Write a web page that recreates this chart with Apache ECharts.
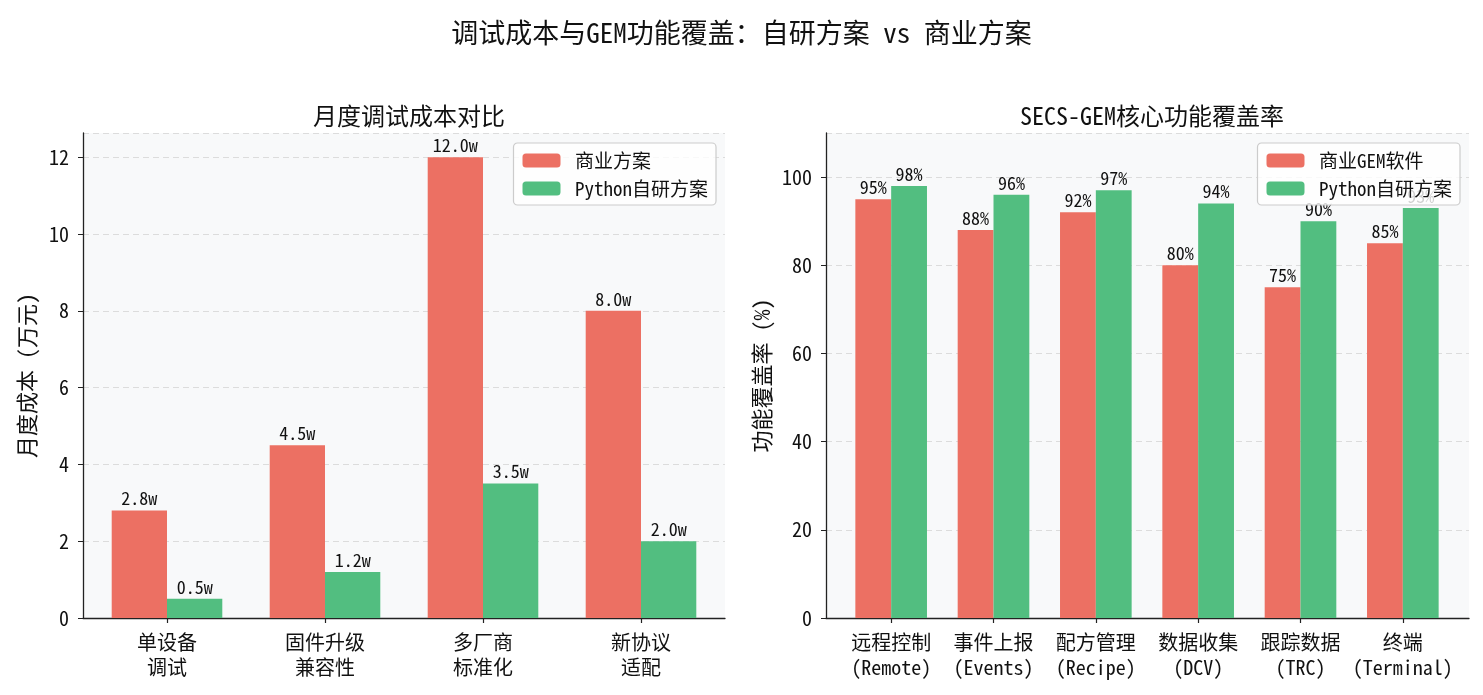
<!DOCTYPE html>
<html><head><meta charset="utf-8">
<script src="https://cdn.jsdelivr.net/npm/echarts@6/dist/echarts.min.js"></script>
<style>html,body{margin:0;padding:0;background:#fff}#c{width:1483px;height:695px}</style>
</head><body><div id="c"></div>
<script>
const costCategories = ['单设备\n调试', '固件升级\n兼容性', '多厂商\n标准化', '新协议\n适配'];
const costCommercial = [2.8, 4.5, 12.0, 8.0];
const costPython = [0.5, 1.2, 3.5, 2.0];
const featCategories = ['远程控制\n(Remote)', '事件上报\n(Events)', '配方管理\n(Recipe)', '数据收集\n(DCV)', '跟踪数据\n(TRC)', '终端\n(Terminal)'];
const featCommercial = [95, 88, 92, 80, 75, 85];
const featPython = [98, 96, 97, 94, 90, 93];

const FONT = "'Noto Sans Mono CJK SC', 'DejaVu Sans Mono', 'Noto Sans CJK SC', monospace";
const RED = '#EC7063', GREEN = '#52BE80';
const chart = echarts.init(document.getElementById('c'));

// frame x axes (axis line only) on the background grids
function frameX(idx) {
  return {
    type: 'value', gridIndex: idx, min: 0, max: 1,
    axisLine: { show: true, onZero: false, lineStyle: { color: '#222', width: 1.3 } },
    axisTick: { show: false }, axisLabel: { show: false }, splitLine: { show: false }
  };
}
// category axes on the inner bar grids (ticks + labels)
function catX(idx, data) {
  return {
    type: 'category', gridIndex: idx, data: data,
    axisLine: { show: false },
    axisTick: { show: true, alignWithLabel: true, length: 5, lineStyle: { color: '#222', width: 1.2 } },
    axisLabel: { color: '#111', fontSize: 20, fontFamily: FONT, lineHeight: 25, margin: 12, interval: 0 },
    splitLine: { show: false }
  };
}
function yAx(idx, max, interval, name, gap) {
  return {
    type: 'value', gridIndex: idx, min: 0, max: max, interval: interval,
    name: name, nameLocation: 'middle', nameGap: gap, nameRotate: 90,
    nameTextStyle: { color: '#111', fontSize: 22, fontFamily: FONT },
    axisLine: { show: true, lineStyle: { color: '#222', width: 1.3 } },
    axisTick: { show: true, length: 5, lineStyle: { color: '#222' } },
    axisLabel: { color: '#111', fontSize: 20, fontFamily: FONT, margin: 14, showMaxLabel: false },
    splitLine: { show: true, lineStyle: { color: '#dcdcdc', type: [6, 4], width: 1 } }
  };
}
function hiddenY(idx, max) {
  return { type: 'value', gridIndex: idx, min: 0, max: max, show: false, splitLine: { show: false } };
}
function bar(name, data, ai, color, fmt) {
  return {
    type: 'bar', name: name, xAxisIndex: ai, yAxisIndex: ai, data: data,
    barWidth: '35%', barGap: '0%',
    itemStyle: { color: color },
    label: { show: true, position: 'top', distance: 3, color: '#111', fontSize: 18, fontFamily: FONT, formatter: fmt }
  };
}
const fmtW = p => p.value.toFixed(1) + 'w';
const fmtP = p => p.value + '%';
function legend(names, right) {
  return {
    data: names, orient: 'vertical', right: right, top: 143,
    itemWidth: 38, itemHeight: 14, itemGap: 9, padding: [8, 8, 7, 9],
    formatter: n => ' ' + n,
    backgroundColor: 'rgba(255,255,255,0.8)', borderColor: '#cccccc', borderWidth: 1.2, borderRadius: 4,
    textStyle: { fontSize: 19, color: '#111', fontFamily: FONT }, selectedMode: false
  };
}

chart.setOption({
  animation: false,
  backgroundColor: '#fff',
  title: [
    { text: '调试成本与GEM功能覆盖：自研方案 vs 商业方案', left: 'center', top: 14,
      textStyle: { fontSize: 27, fontWeight: 'normal', color: '#111', fontFamily: FONT } },
    { text: '月度调试成本对比', left: 404, top: 99, textAlign: 'center',
      textStyle: { fontSize: 24, fontWeight: 'normal', color: '#111', fontFamily: FONT } },
    { text: 'SECS-GEM核心功能覆盖率', left: 1147, top: 99, textAlign: 'center',
      textStyle: { fontSize: 24, fontWeight: 'normal', color: '#111', fontFamily: FONT } }
  ],
  grid: [
    { left: 83, right: 758, top: 133, bottom: 77, show: true, backgroundColor: '#F8F9FA', borderWidth: 0 },
    { left: 826, right: 14, top: 133, bottom: 77, show: true, backgroundColor: '#F8F9FA', borderWidth: 0 },
    { left: 88, right: 763, top: 133, bottom: 77 },
    { left: 840, right: 29, top: 133, bottom: 77 }
  ],
  legend: [
    legend(['商业方案', 'Python自研方案'], 1483 - 716),
    legend(['商业GEM软件', 'Python自研方案'], 1483 - 1460)
  ],
  xAxis: [frameX(0), frameX(1), catX(2, costCategories), catX(3, featCategories)],
  yAxis: [
    yAx(0, 12.63, 2, '月度成本 (万元)', 45), yAx(1, 110, 20, '功能覆盖率 (%)', 53),
    hiddenY(2, 12.63), hiddenY(3, 110)
  ],
  series: [
    bar('商业方案', costCommercial, 2, RED, fmtW),
    bar('Python自研方案', costPython, 2, GREEN, fmtW),
    bar('商业GEM软件', featCommercial, 3, RED, fmtP),
    bar('Python自研方案', featPython, 3, GREEN, fmtP)
  ]
});
</script></body></html>
